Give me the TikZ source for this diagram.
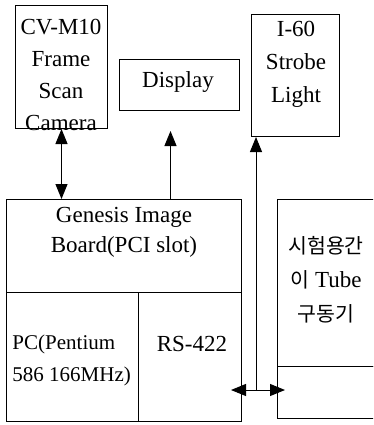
\documentclass[tikz,border=0pt]{standalone}
\usepackage{fontspec}
\setmainfont{Liberation Serif}
\newfontfamily\kor{Noto Sans CJK KR}
\usetikzlibrary{arrows.meta}
\newcommand\kr[1]{{\kor\fontsize{20.5}{34}\selectfont #1}}

\begin{document}
\begin{tikzpicture}[x=1pt,y=-1pt,line width=1pt,
  box/.style={draw,anchor=north west,inner sep=0pt},
  txt/.style={align=center,inner sep=0pt,font=\fontsize{23}{32}\selectfont},
  arr/.style={-{Triangle[length=15pt,width=12pt]}},
  arrs/.style={{Triangle[length=15pt,width=12pt]}-{Triangle[length=15pt,width=12pt]}}]
\useasboundingbox (0,0) rectangle (373,425);
\clip (0,0) rectangle (373,425);
\node[box,minimum width=92,minimum height=123] (cam) at (15,5) {};
\node[box,minimum width=120,minimum height=51] (disp) at (119,59) {};
\node[box,minimum width=88,minimum height=122] (strobe) at (251,14) {};
\node[box,minimum width=235,minimum height=93] (board) at (6,199) {};
\node[box,minimum width=132,minimum height=129] (pc) at (6,292) {};
\node[box,minimum width=103,minimum height=129] (rs) at (138,292) {};
\node[box,minimum width=110,minimum height=167] (tube) at (277,199) {};
\node[box,minimum width=110,minimum height=52] (tubeb) at (277,366) {};
\node[txt] (camtxt) at (61,75) {CV-M10\\Frame\\Scan\\Camera};
\node[txt] (disptxt) at (178,82) {Display};
\node[txt,font=\fontsize{23}{33}\selectfont] (strobetxt) at (296,64) {I-60\\Strobe\\Light};
\node[txt,font=\fontsize{23}{30}\selectfont] (boardtxt) at (124,232) {Genesis Image\\Board(PCI slot)};
\node[txt,align=left,anchor=west,font=\fontsize{21}{32}\selectfont] (pctxt) at (12,360) {PC(Pentium\\586 166MHz)};
\node[txt] (rstxt) at (192,344) {RS-422};
\node[txt,font=\fontsize{23}{34}\selectfont] (tubetxt) at (326,280) {\kr{시험용간}\\\kr{이} Tube\\\kr{구동기}};
\coordinate (bus) at (256,390);
\draw[arrs] (cam.south) -- (cam.south |- board.north);
\draw[arr,shorten >=20pt] ([xshift=-9pt]disp.south |- board.north) -- ([xshift=-9pt]disp.south);
\draw[arr] (bus) -- (bus |- strobe.south);
\draw[arrs,shorten <=-11pt,shorten >=-8pt] (board.east |- bus) -- (tube.west |- bus);
\end{tikzpicture}
\end{document}
